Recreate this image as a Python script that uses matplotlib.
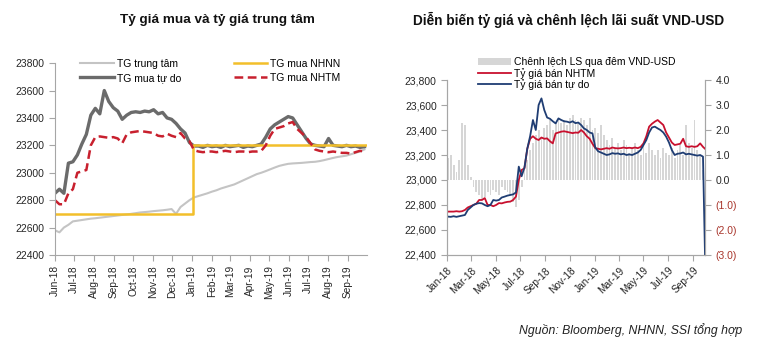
import matplotlib
matplotlib.use("Agg")
import matplotlib.pyplot as plt
import matplotlib.dates as mdates
import matplotlib.ticker as mticker
import pandas as pd

plt.rcParams['font.family'] = ['Liberation Sans', 'DejaVu Sans']

# ---------------- Left chart data (weekly from 2018-06-01) ----------------
left_start = "2018-06-01"
tg_trung_tam = [22580, 22565, 22600, 22620, 22645, 22650, 22655, 22660, 22665, 22668,
                22672, 22676, 22680, 22684, 22688, 22692, 22696, 22700, 22705, 22710,
                22713, 22716, 22720, 22723, 22726, 22730, 22735, 22700, 22750, 22775,
                22800, 22820, 22830, 22840, 22850, 22862, 22872, 22885, 22895, 22905,
                22915, 22930, 22945, 22960, 22975, 22990, 23000, 23012, 23025, 23038,
                23050, 23058, 23065, 23068, 23070, 23072, 23075, 23078, 23080, 23085,
                23092, 23100, 23108, 23115, 23120, 23125, 23135, 23145, 23155, 23170]
tg_mua_tu_do = [22850, 22880, 22850, 23070, 23080, 23130, 23210, 23280, 23420, 23470,
                23430, 23600, 23520, 23475, 23450, 23390, 23420, 23440, 23445, 23440,
                23450, 23445, 23460, 23430, 23440, 23400, 23390, 23360, 23320, 23290,
                23220, 23195, 23195, 23185, 23200, 23190, 23195, 23185, 23200, 23190,
                23195, 23200, 23185, 23195, 23190, 23200, 23210, 23260, 23320, 23350,
                23370, 23390, 23410, 23400, 23350, 23300, 23250, 23210, 23200, 23195,
                23190, 23250, 23200, 23195, 23190, 23200, 23190, 23195, 23185, 23190]
tg_mua_nhtm = [22800, 22770, 22770, 22850, 22880, 23000, 23010, 23020, 23200, 23260,
               23265, 23260, 23255, 23260, 23250, 23215, 23280, 23295, 23300, 23305,
               23300, 23295, 23290, 23270, 23265, 23285, 23270, 23260, 23290, 23250,
               23230, 23165, 23155, 23150, 23155, 23155, 23150, 23155, 23160, 23155,
               23150, 23155, 23155, 23150, 23155, 23155, 23160, 23200, 23270, 23320,
               23330, 23340, 23360, 23370, 23320, 23290, 23260, 23215, 23170, 23160,
               23155, 23150, 23155, 23150, 23145, 23145, 23140, 23150, 23160, 23155]
# SBV buying rate: step change
nhnn_dates = ["2018-06-01", "2019-01-03", "2019-01-03", "2019-09-30"]
nhnn_values = [22700, 22700, 23200, 23200]

left_months = pd.date_range("2018-06-01", "2019-09-01", freq="MS")
left_month_labels = [d.strftime("%b-%y") for d in left_months]

# ---------------- Right chart data (weekly from 2018-01-03) ----------------
right_start = "2018-01-03"
chenh_lech = [0.9, 1.0, 0.6, 0.3, 0.8,
              2.3, 2.2, 0.6, 0.1,
              -0.3, -0.5, -0.6, -0.8,
              -0.7, -0.5, -0.6, -0.4,
              -0.5, -0.6, -0.3, -0.4, -0.5,
              -0.6, -0.9, -1.1, -0.8,
              -0.3, 0.4, 0.8, 1.2,
              1.5, 1.8, 2.0, 1.7, 2.1,
              2.2, 2.4, 2.0, 2.3,
              2.5, 2.3, 2.4, 2.2,
              2.5, 2.6, 2.4, 2.3, 2.5,
              2.4, 2.2, 2.5, 2.0,
              2.1, 1.9, 2.2, 1.8,
              1.6, 1.4, 1.7, 1.3,
              1.5, 1.2, 1.6, 1.4, 1.1,
              1.3, 1.5, 1.2, 1.0,
              1.4, 1.1, 1.5, 1.2,
              1.0, 1.2, 0.9, 1.3, 1.1,
              1.0, 1.3, 0.9, 1.2,
              1.4, 1.0, 2.2, 1.5, 1.3,
              2.4, 1.2, 1.0, 0.4]
ban_nhtm = [22747, 22747, 22747, 22750, 22747, 22750, 22760, 22780, 22790, 22800,
            22810, 22840, 22840, 22855, 22800, 22800, 22790, 22800, 22815, 22813,
            22820, 22825, 22827, 22840, 22867, 23000, 23080, 23093, 23250, 23330,
            23350, 23330, 23320, 23340, 23330, 23333, 23310, 23293, 23373, 23380,
            23387, 23390, 23385, 23380, 23375, 23380, 23378, 23400, 23380, 23350,
            23330, 23290, 23255, 23250, 23245, 23250, 23255, 23250, 23260, 23255,
            23253, 23255, 23260, 23255, 23258, 23255, 23260, 23255, 23265, 23293,
            23350, 23427, 23450, 23467, 23480, 23460, 23440, 23380, 23340, 23300,
            23280, 23285, 23290, 23330, 23270, 23265, 23270, 23265, 23270, 23293,
            23265, 23250]
ban_tu_do = [22707, 22705, 22710, 22705, 22710, 22715, 22720, 22760, 22780, 22800,
             22810, 22815, 22813, 22800, 22790, 22800, 22840, 22835, 22840, 22860,
             22867, 22875, 22880, 22885, 22900, 23107, 23030, 23100, 23250, 23350,
             23480, 23400, 23600, 23653, 23560, 23500, 23490, 23470, 23453, 23493,
             23480, 23470, 23467, 23460, 23470, 23455, 23460, 23440, 23413, 23400,
             23380, 23373, 23260, 23230, 23220, 23210, 23200, 23205, 23215, 23210,
             23213, 23205, 23210, 23200, 23205, 23200, 23210, 23220, 23240, 23280,
             23320, 23380, 23420, 23427, 23413, 23400, 23380, 23347, 23300, 23240,
             23200, 23210, 23213, 23220, 23205, 23210, 23205, 23200, 23195, 23200,
             23187, 22400]
right_end = "2019-09-30"

right_months = pd.date_range("2018-01-01", "2019-09-01", freq="2MS")
right_month_labels = [d.strftime("%b-%y") for d in right_months]

# ---------------- Figure ----------------
fig = plt.figure(figsize=(7.63, 3.45), dpi=100)
spine_c = "#a6a6a6"
txt_c = "#262626"

# Left axes
axL = fig.add_axes([0.072, 0.261, 0.409, 0.556])
xL = pd.date_range(left_start, periods=len(tg_trung_tam), freq="7D")
l1, = axL.plot(xL, tg_trung_tam, color="#c4c4c4", lw=1.5, label="TG trung tâm")
l2, = axL.plot(xL, tg_mua_tu_do, color="#6b6b6b", lw=2.4, label="TG mua tự do")
l3, = axL.plot(pd.to_datetime(nhnn_dates), nhnn_values, color="#f2bf2a", lw=1.8,
               label="TG mua NHNN")
l4, = axL.plot(xL, tg_mua_nhtm, color="#c8202e", lw=1.8, ls=(0, (3.5, 1.8)),
               label="TG mua NHTM")
axL.set_ylim(22400, 23800)
axL.set_xlim(pd.Timestamp("2018-06-01"), pd.Timestamp("2019-10-01"))
axL.set_yticks(range(22400, 23801, 200))
axL.set_xticks(left_months)
axL.set_xticklabels(left_month_labels, rotation=90, fontsize=7.3, color=txt_c)
axL.tick_params(axis="y", labelsize=7.5, labelcolor=txt_c, color=spine_c, length=4)
axL.tick_params(axis="x", color=spine_c, length=4)
for s in ["top", "right"]:
    axL.spines[s].set_visible(False)
for s in ["left", "bottom"]:
    axL.spines[s].set_color(spine_c)
axL.legend(handles=[l1, l2, l3, l4], ncol=2, loc="upper left",
           bbox_to_anchor=(0.065, 1.05), frameon=False, fontsize=7.5,
           handlelength=3.2, handletextpad=0.3, columnspacing=5.05,
           labelspacing=0.4, borderpad=0)
fig.text(0.285, 0.942, "Tỷ giá mua và tỷ giá trung tâm", ha="center", va="center",
         fontsize=9.7, fontweight="bold", color="#111111")

# Right axes
axR = fig.add_axes([0.586, 0.261, 0.338, 0.507])
axR2 = axR.twinx()
xB = pd.date_range(right_start, periods=len(chenh_lech), freq="7D")
b = axR2.bar(xB, chenh_lech, width=4.5, color="#d6d6d6", label="Chênh lệch LS qua đêm VND-USD")
axR2.set_ylim(-3, 4)
axR.set_zorder(axR2.get_zorder() + 1)
axR.patch.set_visible(False)
xR = list(pd.date_range(right_start, periods=len(ban_nhtm) - 1, freq="7D")) + [pd.Timestamp(right_end)]
r1, = axR.plot(xR, ban_nhtm, color="#c8102e", lw=1.3, label="Tỷ giá bán NHTM")
r2, = axR.plot(xR, ban_tu_do, color="#1f3d73", lw=1.3, label="Tỷ giá bán tự do")
axR.set_ylim(22400, 23800)
axR.set_xlim(pd.Timestamp("2018-01-01"), pd.Timestamp(right_end))
axR.set_yticks(range(22400, 23801, 200))
axR.yaxis.set_major_formatter(mticker.FuncFormatter(lambda v, p: f"{int(v):,}"))
axR.set_xticks(right_months)
axR.set_xticklabels(right_month_labels, rotation=45, ha="right", rotation_mode="anchor",
                    fontsize=7.3, color=txt_c)
axR.tick_params(axis="y", labelsize=7.5, labelcolor=txt_c, color=spine_c, length=4)
axR.tick_params(axis="x", color=spine_c, length=4)
axR2.set_yticks([4, 3, 2, 1, 0, -1, -2, -3])
axR2.yaxis.set_major_formatter(mticker.FuncFormatter(
    lambda v, p: f"{v:.1f}" if v >= 0 else f"({abs(v):.1f})"))
axR2.tick_params(axis="y", labelsize=7.5, color=spine_c, length=4)
for lab, v in zip(axR2.get_yticklabels(), [4, 3, 2, 1, 0, -1, -2, -3]):
    lab.set_color(txt_c if v >= 0 else "#a8342a")
for ax in (axR, axR2):
    ax.spines["top"].set_visible(False)
    for s in ["left", "bottom", "right"]:
        ax.spines[s].set_color(spine_c)
axR.legend(handles=[b, r1, r2], loc="upper left", bbox_to_anchor=(0.1, 1.16),
           frameon=False, fontsize=7.5, handlelength=3.2, handletextpad=0.2,
           labelspacing=0.05, borderpad=0)
fig.text(0.745, 0.942, "Diễn biến tỷ giá và chênh lệch lãi suất VND-USD", ha="center",
         va="center", fontsize=9.8, fontweight="bold", color="#111111")

fig.text(0.973, 0.043, "Nguồn: Bloomberg, NHNN, SSI tổng hợp", ha="right", va="center",
         fontsize=8.8, style="italic", color="#222222")

fig.savefig("out.png", dpi=100)
